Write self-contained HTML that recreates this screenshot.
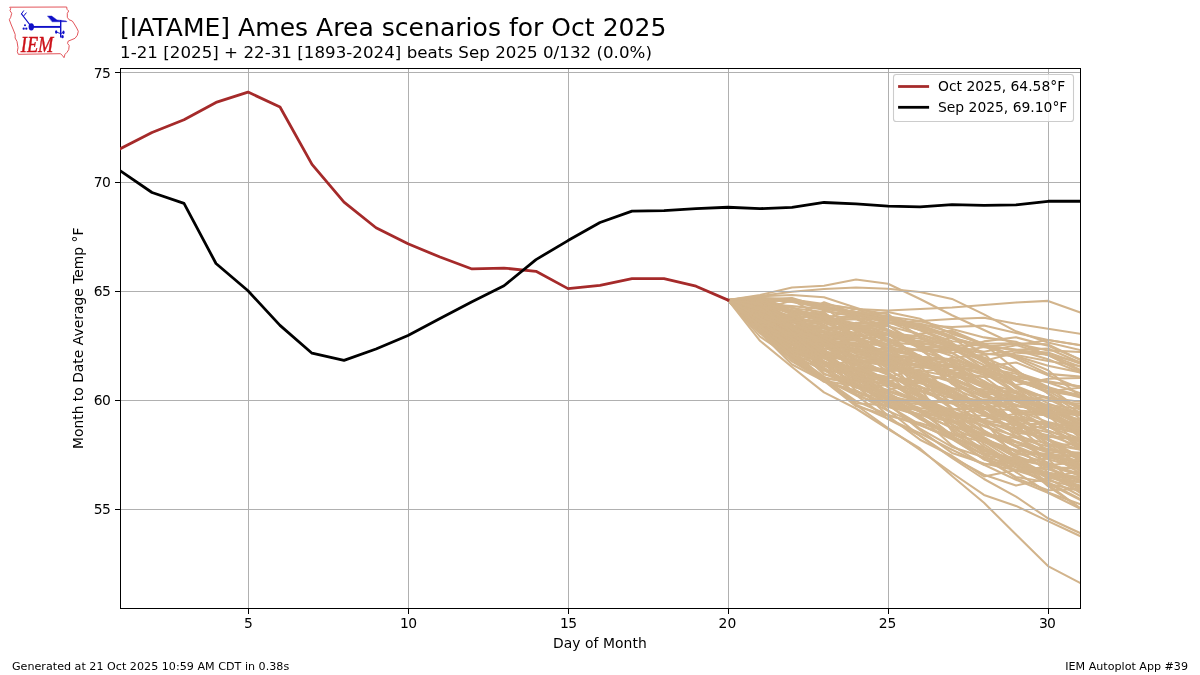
<!DOCTYPE html>
<html lang="en">
<head>
<meta charset="utf-8">
<title>[IATAME] Ames Area scenarios for Oct 2025</title>
<style>
html, body { margin: 0; padding: 0; background: #fff; }
body { width: 1200px; height: 675px; overflow: hidden; }
svg text { white-space: pre; }
</style>
</head>
<body>
<svg width="1200" height="675" viewBox="0 0 1200 675" font-family="'DejaVu Sans', 'Liberation Sans', sans-serif" style="display:block">
<rect width="1200" height="675" fill="#fff"/>
<defs><clipPath id="ax"><rect x="120" y="67.5" width="960" height="540"/></clipPath></defs>
<g clip-path="url(#ax)" fill="none" stroke="#d2b48c" stroke-width="2.08" stroke-linejoin="round" stroke-linecap="square">
<polyline points="728.0,300.1 760.0,314.6 792.0,333.3 824.0,373.5 856.0,387.4 888.0,390.6 920.0,399.7 952.0,403.5 984.0,407.8 1016.0,418.9 1048.0,422.9 1080.0,431.6"/>
<polyline points="728.0,300.1 760.0,322.7 792.0,338.0 824.0,353.8 856.0,363.9 888.0,380.5 920.0,394.6 952.0,415.3 984.0,426.3 1016.0,436.0 1048.0,443.8 1080.0,449.8"/>
<polyline points="728.0,300.1 760.0,316.9 792.0,343.4 824.0,368.4 856.0,386.0 888.0,385.2 920.0,394.8 952.0,413.2 984.0,432.9 1016.0,441.6 1048.0,452.1 1080.0,452.6"/>
<polyline points="728.0,300.1 760.0,307.3 792.0,318.8 824.0,332.3 856.0,339.8 888.0,358.7 920.0,388.2 952.0,431.1 984.0,453.3 1016.0,470.7 1048.0,474.3 1080.0,479.9"/>
<polyline points="728.0,300.1 760.0,327.6 792.0,359.1 824.0,381.8 856.0,390.4 888.0,407.2 920.0,410.0 952.0,421.0 984.0,430.7 1016.0,446.9 1048.0,462.6 1080.0,475.9"/>
<polyline points="728.0,300.1 760.0,327.2 792.0,351.0 824.0,363.9 856.0,369.2 888.0,382.8 920.0,400.2 952.0,419.8 984.0,446.7 1016.0,472.1 1048.0,492.5 1080.0,504.1"/>
<polyline points="728.0,300.1 760.0,310.9 792.0,315.9 824.0,324.5 856.0,346.8 888.0,372.4 920.0,394.3 952.0,429.3 984.0,449.4 1016.0,467.3 1048.0,483.8 1080.0,490.6"/>
<polyline points="728.0,300.1 760.0,306.1 792.0,324.9 824.0,338.7 856.0,348.9 888.0,367.6 920.0,375.0 952.0,379.8 984.0,402.3 1016.0,419.8 1048.0,444.0 1080.0,455.2"/>
<polyline points="728.0,300.1 760.0,306.8 792.0,325.7 824.0,342.3 856.0,360.3 888.0,363.5 920.0,364.2 952.0,371.7 984.0,376.9 1016.0,400.1 1048.0,417.4 1080.0,426.8"/>
<polyline points="728.0,300.1 760.0,320.4 792.0,333.0 824.0,327.7 856.0,327.6 888.0,342.4 920.0,344.7 952.0,366.3 984.0,380.9 1016.0,399.3 1048.0,408.7 1080.0,425.0"/>
<polyline points="728.0,300.1 760.0,328.1 792.0,336.6 824.0,358.4 856.0,355.2 888.0,350.6 920.0,355.6 952.0,378.1 984.0,391.1 1016.0,398.8 1048.0,411.6 1080.0,435.8"/>
<polyline points="728.0,300.1 760.0,329.0 792.0,349.0 824.0,341.1 856.0,343.9 888.0,340.0 920.0,341.1 952.0,343.9 984.0,359.0 1016.0,387.3 1048.0,415.2 1080.0,431.6"/>
<polyline points="728.0,300.1 760.0,315.6 792.0,319.2 824.0,332.7 856.0,345.8 888.0,353.3 920.0,366.8 952.0,394.8 984.0,421.6 1016.0,437.5 1048.0,452.4 1080.0,464.5"/>
<polyline points="728.0,300.1 760.0,331.7 792.0,349.3 824.0,364.7 856.0,361.4 888.0,365.4 920.0,381.0 952.0,408.1 984.0,420.5 1016.0,432.7 1048.0,436.7 1080.0,439.6"/>
<polyline points="728.0,300.1 760.0,316.7 792.0,331.7 824.0,351.1 856.0,365.8 888.0,369.6 920.0,387.5 952.0,396.0 984.0,421.2 1016.0,457.8 1048.0,486.2 1080.0,508.1"/>
<polyline points="728.0,300.1 760.0,313.3 792.0,328.3 824.0,342.4 856.0,345.6 888.0,353.9 920.0,360.1 952.0,377.1 984.0,394.6 1016.0,414.0 1048.0,426.0 1080.0,445.2"/>
<polyline points="728.0,300.1 760.0,327.2 792.0,331.3 824.0,334.7 856.0,338.4 888.0,348.2 920.0,349.6 952.0,350.3 984.0,341.4 1016.0,337.3 1048.0,345.8 1080.0,359.5"/>
<polyline points="728.0,300.1 760.0,333.3 792.0,347.4 824.0,354.0 856.0,374.6 888.0,377.2 920.0,381.6 952.0,396.9 984.0,408.3 1016.0,420.6 1048.0,438.5 1080.0,468.0"/>
<polyline points="728.0,300.1 760.0,315.1 792.0,355.2 824.0,379.8 856.0,393.9 888.0,410.9 920.0,424.6 952.0,439.2 984.0,458.5 1016.0,477.0 1048.0,482.2 1080.0,498.8"/>
<polyline points="728.0,300.1 760.0,312.4 792.0,332.3 824.0,353.8 856.0,384.7 888.0,416.0 920.0,439.7 952.0,455.8 984.0,476.5 1016.0,469.9 1048.0,472.9 1080.0,477.1"/>
<polyline points="728.0,300.1 760.0,320.5 792.0,325.7 824.0,338.7 856.0,339.7 888.0,335.3 920.0,346.0 952.0,349.2 984.0,361.0 1016.0,352.6 1048.0,354.4 1080.0,366.7"/>
<polyline points="728.0,300.1 760.0,336.6 792.0,358.0 824.0,378.5 856.0,401.1 888.0,414.7 920.0,425.3 952.0,438.0 984.0,447.2 1016.0,463.2 1048.0,472.7 1080.0,479.3"/>
<polyline points="728.0,300.1 760.0,324.8 792.0,331.1 824.0,339.7 856.0,322.7 888.0,323.0 920.0,321.3 952.0,329.1 984.0,337.4 1016.0,341.7 1048.0,355.3 1080.0,369.7"/>
<polyline points="728.0,300.1 760.0,313.7 792.0,321.4 824.0,321.5 856.0,318.7 888.0,319.4 920.0,327.6 952.0,346.6 984.0,369.1 1016.0,391.9 1048.0,405.8 1080.0,421.2"/>
<polyline points="728.0,300.1 760.0,328.9 792.0,343.7 824.0,358.0 856.0,376.9 888.0,405.6 920.0,424.6 952.0,437.3 984.0,459.2 1016.0,467.2 1048.0,469.2 1080.0,479.7"/>
<polyline points="728.0,300.1 760.0,325.3 792.0,344.8 824.0,363.6 856.0,395.1 888.0,406.6 920.0,415.5 952.0,414.9 984.0,408.7 1016.0,410.2 1048.0,412.7 1080.0,413.0"/>
<polyline points="728.0,300.1 760.0,305.9 792.0,316.4 824.0,326.1 856.0,313.0 888.0,319.0 920.0,330.2 952.0,343.7 984.0,362.2 1016.0,388.4 1048.0,397.7 1080.0,405.9"/>
<polyline points="728.0,300.1 760.0,316.0 792.0,331.4 824.0,342.9 856.0,349.1 888.0,363.7 920.0,381.4 952.0,396.5 984.0,415.4 1016.0,430.4 1048.0,439.8 1080.0,449.5"/>
<polyline points="728.0,300.1 760.0,326.7 792.0,331.6 824.0,331.6 856.0,346.9 888.0,369.0 920.0,372.2 952.0,366.7 984.0,366.6 1016.0,362.5 1048.0,375.2 1080.0,388.0"/>
<polyline points="728.0,300.1 760.0,309.4 792.0,329.3 824.0,340.4 856.0,342.9 888.0,355.2 920.0,366.1 952.0,365.3 984.0,373.0 1016.0,393.0 1048.0,411.3 1080.0,430.6"/>
<polyline points="728.0,300.1 760.0,319.9 792.0,339.3 824.0,355.3 856.0,375.7 888.0,381.6 920.0,376.4 952.0,395.1 984.0,411.2 1016.0,430.9 1048.0,466.4 1080.0,490.1"/>
<polyline points="728.0,300.1 760.0,326.1 792.0,354.2 824.0,366.5 856.0,367.7 888.0,370.4 920.0,370.8 952.0,376.4 984.0,383.2 1016.0,397.5 1048.0,410.6 1080.0,428.2"/>
<polyline points="728.0,300.1 760.0,319.2 792.0,322.9 824.0,318.8 856.0,319.4 888.0,331.3 920.0,347.1 952.0,352.9 984.0,347.1 1016.0,343.6 1048.0,350.4 1080.0,352.0"/>
<polyline points="728.0,300.1 760.0,322.6 792.0,344.9 824.0,358.3 856.0,369.1 888.0,371.8 920.0,367.0 952.0,364.3 984.0,385.1 1016.0,415.7 1048.0,438.5 1080.0,457.5"/>
<polyline points="728.0,300.1 760.0,316.3 792.0,337.2 824.0,355.5 856.0,362.1 888.0,387.4 920.0,402.2 952.0,419.9 984.0,434.5 1016.0,445.0 1048.0,449.1 1080.0,453.5"/>
<polyline points="728.0,300.1 760.0,321.3 792.0,339.5 824.0,357.6 856.0,371.5 888.0,376.9 920.0,383.2 952.0,390.0 984.0,408.3 1016.0,424.8 1048.0,452.6 1080.0,469.0"/>
<polyline points="728.0,300.1 760.0,327.3 792.0,318.9 824.0,321.6 856.0,315.3 888.0,312.0 920.0,318.8 952.0,334.1 984.0,343.7 1016.0,343.3 1048.0,344.4 1080.0,359.6"/>
<polyline points="728.0,300.1 760.0,331.9 792.0,343.7 824.0,353.2 856.0,360.9 888.0,359.8 920.0,365.3 952.0,373.9 984.0,385.2 1016.0,410.1 1048.0,426.8 1080.0,438.7"/>
<polyline points="728.0,300.1 760.0,304.6 792.0,321.4 824.0,328.8 856.0,336.1 888.0,334.0 920.0,345.2 952.0,355.9 984.0,373.0 1016.0,386.5 1048.0,403.4 1080.0,415.1"/>
<polyline points="728.0,300.1 760.0,299.1 792.0,321.3 824.0,331.1 856.0,337.7 888.0,355.3 920.0,378.1 952.0,396.7 984.0,407.9 1016.0,422.1 1048.0,446.5 1080.0,463.7"/>
<polyline points="728.0,300.1 760.0,321.3 792.0,343.2 824.0,368.7 856.0,394.8 888.0,419.1 920.0,435.7 952.0,457.1 984.0,474.7 1016.0,485.6 1048.0,478.5 1080.0,470.7"/>
<polyline points="728.0,300.1 760.0,303.7 792.0,311.6 824.0,319.0 856.0,308.8 888.0,314.2 920.0,337.6 952.0,352.6 984.0,372.7 1016.0,378.9 1048.0,392.9 1080.0,413.0"/>
<polyline points="728.0,300.1 760.0,321.7 792.0,334.1 824.0,338.7 856.0,353.8 888.0,361.7 920.0,377.2 952.0,392.4 984.0,406.7 1016.0,406.2 1048.0,410.2 1080.0,423.6"/>
<polyline points="728.0,300.1 760.0,323.2 792.0,334.1 824.0,355.5 856.0,370.6 888.0,377.4 920.0,386.2 952.0,409.1 984.0,444.4 1016.0,464.8 1048.0,474.6 1080.0,482.2"/>
<polyline points="728.0,300.1 760.0,328.9 792.0,339.5 824.0,350.7 856.0,363.9 888.0,393.2 920.0,409.3 952.0,436.1 984.0,451.2 1016.0,458.5 1048.0,465.4 1080.0,461.7"/>
<polyline points="728.0,300.1 760.0,320.2 792.0,329.9 824.0,338.5 856.0,352.4 888.0,355.0 920.0,357.4 952.0,364.8 984.0,375.1 1016.0,385.0 1048.0,378.8 1080.0,378.0"/>
<polyline points="728.0,300.1 760.0,314.8 792.0,321.8 824.0,337.8 856.0,340.6 888.0,356.1 920.0,366.5 952.0,372.7 984.0,383.1 1016.0,391.6 1048.0,410.8 1080.0,437.9"/>
<polyline points="728.0,300.1 760.0,321.2 792.0,334.6 824.0,348.2 856.0,356.6 888.0,364.3 920.0,372.5 952.0,381.9 984.0,395.6 1016.0,412.5 1048.0,413.1 1080.0,430.2"/>
<polyline points="728.0,300.1 760.0,317.4 792.0,329.1 824.0,327.7 856.0,326.4 888.0,341.1 920.0,357.7 952.0,384.0 984.0,397.3 1016.0,398.8 1048.0,406.7 1080.0,411.8"/>
<polyline points="728.0,300.1 760.0,327.8 792.0,344.1 824.0,374.4 856.0,380.4 888.0,390.0 920.0,383.0 952.0,374.1 984.0,376.7 1016.0,378.0 1048.0,382.0 1080.0,386.4"/>
<polyline points="728.0,300.1 760.0,324.8 792.0,338.0 824.0,346.3 856.0,350.3 888.0,358.6 920.0,361.7 952.0,377.5 984.0,392.6 1016.0,423.6 1048.0,436.3 1080.0,438.1"/>
<polyline points="728.0,300.1 760.0,318.3 792.0,347.6 824.0,363.6 856.0,384.1 888.0,404.9 920.0,414.4 952.0,427.1 984.0,434.3 1016.0,442.2 1048.0,452.6 1080.0,465.9"/>
<polyline points="728.0,300.1 760.0,319.3 792.0,338.5 824.0,352.9 856.0,375.1 888.0,399.0 920.0,402.1 952.0,420.4 984.0,440.5 1016.0,457.2 1048.0,477.0 1080.0,485.4"/>
<polyline points="728.0,300.1 760.0,315.5 792.0,357.0 824.0,377.3 856.0,384.6 888.0,400.6 920.0,404.4 952.0,409.1 984.0,409.1 1016.0,399.8 1048.0,397.3 1080.0,407.1"/>
<polyline points="728.0,300.1 760.0,306.0 792.0,307.2 824.0,320.2 856.0,323.8 888.0,340.1 920.0,356.4 952.0,383.2 984.0,401.0 1016.0,428.4 1048.0,440.0 1080.0,460.8"/>
<polyline points="728.0,300.1 760.0,313.9 792.0,337.2 824.0,345.6 856.0,360.2 888.0,361.7 920.0,376.4 952.0,397.1 984.0,430.7 1016.0,452.5 1048.0,464.0 1080.0,473.8"/>
<polyline points="728.0,300.1 760.0,321.6 792.0,318.1 824.0,314.9 856.0,335.7 888.0,357.5 920.0,398.9 952.0,417.8 984.0,419.3 1016.0,413.8 1048.0,415.3 1080.0,425.0"/>
<polyline points="728.0,300.1 760.0,330.9 792.0,352.9 824.0,362.2 856.0,368.7 888.0,380.7 920.0,403.1 952.0,424.4 984.0,453.1 1016.0,460.0 1048.0,465.8 1080.0,475.5"/>
<polyline points="728.0,300.1 760.0,299.0 792.0,300.2 824.0,317.7 856.0,340.4 888.0,359.2 920.0,374.7 952.0,388.3 984.0,389.3 1016.0,393.3 1048.0,411.7 1080.0,434.4"/>
<polyline points="728.0,300.1 760.0,316.0 792.0,338.2 824.0,361.1 856.0,380.7 888.0,404.0 920.0,430.1 952.0,452.9 984.0,463.5 1016.0,470.3 1048.0,480.4 1080.0,487.5"/>
<polyline points="728.0,300.1 760.0,321.3 792.0,332.6 824.0,332.4 856.0,334.7 888.0,344.6 920.0,376.2 952.0,390.0 984.0,406.5 1016.0,436.3 1048.0,459.2 1080.0,468.2"/>
<polyline points="728.0,300.1 760.0,322.9 792.0,321.6 824.0,321.7 856.0,325.2 888.0,324.9 920.0,349.5 952.0,372.1 984.0,393.7 1016.0,395.8 1048.0,406.7 1080.0,422.9"/>
<polyline points="728.0,300.1 760.0,314.4 792.0,316.8 824.0,332.1 856.0,368.6 888.0,397.4 920.0,412.0 952.0,428.2 984.0,442.0 1016.0,454.4 1048.0,454.3 1080.0,456.5"/>
<polyline points="728.0,300.1 760.0,319.8 792.0,355.3 824.0,370.2 856.0,374.7 888.0,391.5 920.0,402.3 952.0,411.6 984.0,425.6 1016.0,441.8 1048.0,451.3 1080.0,470.6"/>
<polyline points="728.0,300.1 760.0,325.8 792.0,348.3 824.0,370.3 856.0,387.6 888.0,399.1 920.0,419.0 952.0,435.8 984.0,455.2 1016.0,460.5 1048.0,478.5 1080.0,495.8"/>
<polyline points="728.0,300.1 760.0,304.3 792.0,324.7 824.0,340.2 856.0,370.1 888.0,400.9 920.0,411.0 952.0,421.7 984.0,420.5 1016.0,425.2 1048.0,432.3 1080.0,448.8"/>
<polyline points="728.0,300.1 760.0,303.9 792.0,306.1 824.0,309.1 856.0,311.9 888.0,316.3 920.0,325.0 952.0,335.9 984.0,353.5 1016.0,386.1 1048.0,408.3 1080.0,412.2"/>
<polyline points="728.0,300.1 760.0,299.6 792.0,301.8 824.0,306.2 856.0,316.0 888.0,317.7 920.0,326.8 952.0,337.6 984.0,346.3 1016.0,349.9 1048.0,348.5 1080.0,362.5"/>
<polyline points="728.0,300.1 760.0,332.2 792.0,345.4 824.0,338.1 856.0,331.9 888.0,322.0 920.0,329.7 952.0,341.2 984.0,343.7 1016.0,356.9 1048.0,370.2 1080.0,396.4"/>
<polyline points="728.0,300.1 760.0,315.5 792.0,326.8 824.0,343.0 856.0,360.6 888.0,374.3 920.0,393.3 952.0,416.3 984.0,439.4 1016.0,457.8 1048.0,474.3 1080.0,491.7"/>
<polyline points="728.0,300.1 760.0,320.1 792.0,334.7 824.0,345.3 856.0,368.6 888.0,379.3 920.0,404.0 952.0,419.5 984.0,438.9 1016.0,450.6 1048.0,454.0 1080.0,473.0"/>
<polyline points="728.0,300.1 760.0,307.0 792.0,321.1 824.0,331.3 856.0,347.1 888.0,360.7 920.0,382.7 952.0,394.7 984.0,401.7 1016.0,404.5 1048.0,414.9 1080.0,412.4"/>
<polyline points="728.0,300.1 760.0,332.7 792.0,361.4 824.0,380.7 856.0,386.2 888.0,393.9 920.0,410.2 952.0,414.6 984.0,415.8 1016.0,422.0 1048.0,443.1 1080.0,466.9"/>
<polyline points="728.0,300.1 760.0,313.6 792.0,332.5 824.0,345.3 856.0,363.9 888.0,384.0 920.0,396.6 952.0,411.0 984.0,423.1 1016.0,428.1 1048.0,426.7 1080.0,433.8"/>
<polyline points="728.0,300.1 760.0,331.0 792.0,359.0 824.0,378.9 856.0,395.4 888.0,395.9 920.0,402.4 952.0,424.3 984.0,441.6 1016.0,461.7 1048.0,477.0 1080.0,482.6"/>
<polyline points="728.0,300.1 760.0,326.3 792.0,343.1 824.0,367.8 856.0,386.2 888.0,397.7 920.0,402.5 952.0,400.9 984.0,399.6 1016.0,400.0 1048.0,414.4 1080.0,446.7"/>
<polyline points="728.0,300.1 760.0,299.0 792.0,298.1 824.0,307.6 856.0,313.7 888.0,329.6 920.0,342.5 952.0,348.2 984.0,357.5 1016.0,371.0 1048.0,386.9 1080.0,396.6"/>
<polyline points="728.0,300.1 760.0,323.8 792.0,348.8 824.0,380.3 856.0,391.9 888.0,404.0 920.0,428.7 952.0,446.9 984.0,457.2 1016.0,465.1 1048.0,476.7 1080.0,487.1"/>
<polyline points="728.0,300.1 760.0,324.6 792.0,353.7 824.0,376.5 856.0,404.6 888.0,418.7 920.0,433.3 952.0,449.7 984.0,464.7 1016.0,461.1 1048.0,458.6 1080.0,454.2"/>
<polyline points="728.0,300.1 760.0,299.0 792.0,312.4 824.0,313.4 856.0,330.2 888.0,351.2 920.0,363.5 952.0,367.2 984.0,384.3 1016.0,401.6 1048.0,416.8 1080.0,431.6"/>
<polyline points="728.0,300.1 760.0,317.8 792.0,335.1 824.0,355.2 856.0,379.6 888.0,384.8 920.0,390.4 952.0,398.1 984.0,401.2 1016.0,410.0 1048.0,422.1 1080.0,429.0"/>
<polyline points="728.0,300.1 760.0,300.1 792.0,319.6 824.0,336.2 856.0,351.4 888.0,361.4 920.0,379.3 952.0,403.2 984.0,423.2 1016.0,446.3 1048.0,472.2 1080.0,492.7"/>
<polyline points="728.0,300.1 760.0,302.7 792.0,298.6 824.0,310.6 856.0,316.9 888.0,325.9 920.0,343.8 952.0,363.3 984.0,386.8 1016.0,407.9 1048.0,430.8 1080.0,440.6"/>
<polyline points="728.0,300.1 760.0,324.5 792.0,347.9 824.0,364.6 856.0,383.4 888.0,392.9 920.0,411.4 952.0,434.8 984.0,441.7 1016.0,450.3 1048.0,456.1 1080.0,460.5"/>
<polyline points="728.0,300.1 760.0,308.1 792.0,320.2 824.0,322.8 856.0,333.8 888.0,344.6 920.0,350.4 952.0,361.9 984.0,385.5 1016.0,401.5 1048.0,408.1 1080.0,414.6"/>
<polyline points="728.0,300.1 760.0,314.7 792.0,330.5 824.0,338.9 856.0,345.4 888.0,357.8 920.0,361.2 952.0,373.5 984.0,387.5 1016.0,399.6 1048.0,425.0 1080.0,447.9"/>
<polyline points="728.0,300.1 760.0,302.5 792.0,320.3 824.0,343.8 856.0,372.6 888.0,397.0 920.0,416.8 952.0,445.5 984.0,464.8 1016.0,479.7 1048.0,492.7 1080.0,508.5"/>
<polyline points="728.0,300.1 760.0,322.5 792.0,340.5 824.0,355.7 856.0,371.7 888.0,397.2 920.0,408.1 952.0,410.8 984.0,431.5 1016.0,446.2 1048.0,458.9 1080.0,488.9"/>
<polyline points="728.0,300.1 760.0,307.6 792.0,310.2 824.0,315.0 856.0,328.5 888.0,345.9 920.0,357.1 952.0,359.2 984.0,368.3 1016.0,380.2 1048.0,386.8 1080.0,409.6"/>
<polyline points="728.0,300.1 760.0,310.4 792.0,343.3 824.0,361.9 856.0,386.4 888.0,399.6 920.0,400.8 952.0,415.4 984.0,437.7 1016.0,455.9 1048.0,483.6 1080.0,499.8"/>
<polyline points="728.0,300.1 760.0,311.5 792.0,340.9 824.0,361.9 856.0,375.0 888.0,402.3 920.0,415.9 952.0,438.7 984.0,455.1 1016.0,478.2 1048.0,490.3 1080.0,489.0"/>
<polyline points="728.0,300.1 760.0,325.1 792.0,327.6 824.0,311.1 856.0,315.3 888.0,323.2 920.0,326.1 952.0,338.4 984.0,345.7 1016.0,349.8 1048.0,359.3 1080.0,372.4"/>
<polyline points="728.0,300.1 760.0,327.3 792.0,336.0 824.0,342.5 856.0,325.5 888.0,331.0 920.0,343.0 952.0,349.0 984.0,365.2 1016.0,376.5 1048.0,381.4 1080.0,386.6"/>
<polyline points="728.0,300.1 760.0,316.0 792.0,325.6 824.0,328.3 856.0,328.6 888.0,337.9 920.0,356.2 952.0,374.2 984.0,387.6 1016.0,400.5 1048.0,405.0 1080.0,408.9"/>
<polyline points="728.0,300.1 760.0,300.7 792.0,312.3 824.0,315.9 856.0,317.8 888.0,330.3 920.0,345.5 952.0,337.0 984.0,361.2 1016.0,372.2 1048.0,382.4 1080.0,393.1"/>
<polyline points="728.0,300.1 760.0,320.4 792.0,314.7 824.0,319.9 856.0,330.5 888.0,334.8 920.0,338.8 952.0,347.1 984.0,358.9 1016.0,380.6 1048.0,390.9 1080.0,408.8"/>
<polyline points="728.0,300.1 760.0,304.2 792.0,313.8 824.0,316.4 856.0,323.4 888.0,333.7 920.0,359.6 952.0,383.1 984.0,412.4 1016.0,433.4 1048.0,449.6 1080.0,458.6"/>
<polyline points="728.0,300.1 760.0,318.7 792.0,333.5 824.0,351.1 856.0,361.5 888.0,363.1 920.0,366.5 952.0,370.2 984.0,367.7 1016.0,373.8 1048.0,387.9 1080.0,395.1"/>
<polyline points="728.0,300.1 760.0,332.4 792.0,364.5 824.0,381.0 856.0,406.1 888.0,415.7 920.0,422.9 952.0,433.3 984.0,449.9 1016.0,464.9 1048.0,484.4 1080.0,508.4"/>
<polyline points="728.0,300.1 760.0,297.7 792.0,310.8 824.0,321.9 856.0,326.2 888.0,334.6 920.0,348.1 952.0,345.7 984.0,345.0 1016.0,358.5 1048.0,373.9 1080.0,376.6"/>
<polyline points="728.0,300.1 760.0,309.8 792.0,300.4 824.0,304.8 856.0,308.8 888.0,321.8 920.0,334.6 952.0,342.8 984.0,362.6 1016.0,378.4 1048.0,391.4 1080.0,396.2"/>
<polyline points="728.0,300.1 760.0,318.4 792.0,337.3 824.0,355.3 856.0,362.3 888.0,374.8 920.0,391.2 952.0,402.3 984.0,401.4 1016.0,405.8 1048.0,410.7 1080.0,419.5"/>
<polyline points="728.0,300.1 760.0,330.0 792.0,355.7 824.0,380.1 856.0,403.2 888.0,405.4 920.0,414.4 952.0,422.2 984.0,434.4 1016.0,437.8 1048.0,446.4 1080.0,443.1"/>
<polyline points="728.0,300.1 760.0,318.7 792.0,325.0 824.0,335.8 856.0,339.3 888.0,345.2 920.0,359.6 952.0,378.5 984.0,391.9 1016.0,390.9 1048.0,397.5 1080.0,401.7"/>
<polyline points="728.0,300.1 760.0,314.4 792.0,326.9 824.0,321.6 856.0,336.9 888.0,348.6 920.0,356.8 952.0,359.2 984.0,370.2 1016.0,379.8 1048.0,388.7 1080.0,397.4"/>
<polyline points="728.0,300.1 760.0,308.9 792.0,325.3 824.0,331.5 856.0,327.4 888.0,326.1 920.0,334.4 952.0,346.0 984.0,351.8 1016.0,345.2 1048.0,340.0 1080.0,345.2"/>
<polyline points="728.0,300.1 760.0,298.7 792.0,300.1 824.0,306.8 856.0,331.7 888.0,347.9 920.0,356.1 952.0,370.9 984.0,386.7 1016.0,405.2 1048.0,412.4 1080.0,415.5"/>
<polyline points="728.0,300.1 760.0,328.9 792.0,355.6 824.0,378.6 856.0,381.9 888.0,377.0 920.0,369.1 952.0,357.8 984.0,354.7 1016.0,350.5 1048.0,352.6 1080.0,363.7"/>
<polyline points="728.0,300.1 760.0,313.1 792.0,321.4 824.0,326.9 856.0,338.5 888.0,354.5 920.0,374.4 952.0,391.8 984.0,413.5 1016.0,430.2 1048.0,435.0 1080.0,446.7"/>
<polyline points="728.0,300.1 760.0,327.0 792.0,343.5 824.0,352.9 856.0,350.9 888.0,348.3 920.0,350.5 952.0,353.0 984.0,369.7 1016.0,380.8 1048.0,391.3 1080.0,387.8"/>
<polyline points="728.0,300.1 760.0,298.1 792.0,308.2 824.0,312.0 856.0,338.7 888.0,368.9 920.0,390.1 952.0,403.0 984.0,414.3 1016.0,417.0 1048.0,424.8 1080.0,433.3"/>
<polyline points="728.0,300.1 760.0,315.2 792.0,336.4 824.0,346.2 856.0,349.8 888.0,354.3 920.0,358.2 952.0,359.9 984.0,382.2 1016.0,396.5 1048.0,400.7 1080.0,403.8"/>
<polyline points="728.0,300.1 760.0,302.1 792.0,309.9 824.0,317.4 856.0,330.1 888.0,333.2 920.0,336.4 952.0,347.6 984.0,353.6 1016.0,356.1 1048.0,365.8 1080.0,372.4"/>
<polyline points="728.0,300.1 760.0,310.0 792.0,333.5 824.0,340.9 856.0,344.2 888.0,350.8 920.0,356.4 952.0,361.5 984.0,371.3 1016.0,386.0 1048.0,398.8 1080.0,415.0"/>
<polyline points="728.0,300.1 760.0,325.7 792.0,350.3 824.0,361.6 856.0,371.9 888.0,382.9 920.0,397.3 952.0,414.6 984.0,441.7 1016.0,450.9 1048.0,466.0 1080.0,490.3"/>
<polyline points="728.0,300.1 760.0,309.9 792.0,326.3 824.0,355.4 856.0,390.9 888.0,403.9 920.0,417.1 952.0,434.4 984.0,434.6 1016.0,442.2 1048.0,457.3 1080.0,466.6"/>
<polyline points="728.0,300.1 760.0,307.7 792.0,332.2 824.0,349.0 856.0,378.8 888.0,397.4 920.0,418.0 952.0,438.0 984.0,459.5 1016.0,469.7 1048.0,467.1 1080.0,468.6"/>
<polyline points="728.0,300.1 760.0,321.1 792.0,334.5 824.0,357.9 856.0,345.4 888.0,344.2 920.0,333.8 952.0,330.7 984.0,344.3 1016.0,369.7 1048.0,393.7 1080.0,418.8"/>
<polyline points="728.0,300.1 760.0,322.4 792.0,318.9 824.0,302.2 856.0,313.7 888.0,322.5 920.0,323.6 952.0,332.4 984.0,345.2 1016.0,350.3 1048.0,354.8 1080.0,371.2"/>
<polyline points="728.0,300.1 760.0,299.2 792.0,314.9 824.0,337.6 856.0,356.6 888.0,359.6 920.0,373.9 952.0,380.1 984.0,392.6 1016.0,412.1 1048.0,439.7 1080.0,460.0"/>
<polyline points="728.0,300.1 760.0,303.2 792.0,332.4 824.0,362.0 856.0,377.2 888.0,384.2 920.0,391.1 952.0,388.2 984.0,401.0 1016.0,423.3 1048.0,424.5 1080.0,424.8"/>
<polyline points="728.0,300.1 760.0,316.9 792.0,327.0 824.0,343.0 856.0,356.7 888.0,374.9 920.0,386.7 952.0,396.5 984.0,403.7 1016.0,419.1 1048.0,430.8 1080.0,442.1"/>
<polyline points="728.0,300.1 760.0,308.3 792.0,328.9 824.0,340.2 856.0,358.8 888.0,373.0 920.0,404.5 952.0,425.0 984.0,437.1 1016.0,455.8 1048.0,467.5 1080.0,481.3"/>
<polyline points="728.0,300.0 760.0,295.0 792.0,287.5 824.0,285.7 856.0,279.5 888.0,283.8 920.0,299.0 952.0,315.3 984.0,330.0 1016.0,345.0 1048.0,355.0 1080.0,362.0"/>
<polyline points="728.0,300.0 760.0,296.0 792.0,291.7 824.0,289.0 856.0,287.5 888.0,288.8 920.0,292.0 952.0,298.9 984.0,314.4 1016.0,331.3 1048.0,342.5 1080.0,350.0"/>
<polyline points="728.0,300.0 760.0,298.0 792.0,299.5 824.0,304.0 856.0,309.0 888.0,310.5 920.0,309.0 952.0,307.5 984.0,305.0 1016.0,302.5 1048.0,300.9 1080.0,312.4"/>
<polyline points="728.0,300.0 760.0,298.0 792.0,300.0 824.0,306.0 856.0,312.0 888.0,316.5 920.0,321.0 952.0,319.0 984.0,317.8 1016.0,323.8 1048.0,328.8 1080.0,333.7"/>
<polyline points="728.0,300.0 760.0,299.0 792.0,302.0 824.0,308.0 856.0,314.0 888.0,320.0 920.0,325.0 952.0,327.0 984.0,325.6 1016.0,333.0 1048.0,340.0 1080.0,345.0"/>
<polyline points="728.0,300.0 760.0,296.3 792.0,295.0 824.0,297.3 856.0,307.8 888.0,318.0 920.0,328.0 952.0,338.0 984.0,347.0 1016.0,355.0 1048.0,361.0 1080.0,366.0"/>
<polyline points="728.0,300.0 760.0,340.8 792.0,367.0 824.0,392.4 856.0,408.5 888.0,429.0 920.0,448.5 952.0,476.0 984.0,502.8 1016.0,534.6 1048.0,566.1 1080.0,582.9"/>
<polyline points="728.0,300.0 760.0,326.0 792.0,352.0 824.0,380.0 856.0,405.0 888.0,428.0 920.0,450.0 952.0,473.0 984.0,494.9 1016.0,505.9 1048.0,521.1 1080.0,536.0"/>
<polyline points="728.0,300.0 760.0,318.0 792.0,338.0 824.0,362.0 856.0,386.0 888.0,410.0 920.0,436.0 952.0,458.0 984.0,479.0 1016.0,496.6 1048.0,518.3 1080.0,533.0"/>
</g>
<g stroke="#b0b0b0" stroke-width="1" shape-rendering="crispEdges">
<line x1="248.5" y1="67.5" x2="248.5" y2="607.5"/>
<line x1="408.5" y1="67.5" x2="408.5" y2="607.5"/>
<line x1="568.5" y1="67.5" x2="568.5" y2="607.5"/>
<line x1="728.5" y1="67.5" x2="728.5" y2="607.5"/>
<line x1="888.5" y1="67.5" x2="888.5" y2="607.5"/>
<line x1="1048.5" y1="67.5" x2="1048.5" y2="607.5"/>
<line x1="120" y1="509.5" x2="1080" y2="509.5"/>
<line x1="120" y1="400.5" x2="1080" y2="400.5"/>
<line x1="120" y1="291.5" x2="1080" y2="291.5"/>
<line x1="120" y1="182.5" x2="1080" y2="182.5"/>
<line x1="120" y1="72.5" x2="1080" y2="72.5"/>
</g>
<g stroke="#000" stroke-width="1" shape-rendering="crispEdges" fill="none">
<rect x="120.5" y="68.5" width="960" height="540"/>
<line x1="248.5" y1="608.5" x2="248.5" y2="614"/>
<line x1="408.5" y1="608.5" x2="408.5" y2="614"/>
<line x1="568.5" y1="608.5" x2="568.5" y2="614"/>
<line x1="728.5" y1="608.5" x2="728.5" y2="614"/>
<line x1="888.5" y1="608.5" x2="888.5" y2="614"/>
<line x1="1048.5" y1="608.5" x2="1048.5" y2="614"/>
<line x1="115" y1="509.5" x2="120.5" y2="509.5"/>
<line x1="115" y1="400.5" x2="120.5" y2="400.5"/>
<line x1="115" y1="291.5" x2="120.5" y2="291.5"/>
<line x1="115" y1="182.5" x2="120.5" y2="182.5"/>
<line x1="115" y1="72.5" x2="120.5" y2="72.5"/>
</g>
<g clip-path="url(#ax)" fill="none" stroke-width="2.78" stroke-linejoin="round" stroke-linecap="square">
<polyline stroke="#a52a2a" points="120.00,148.84 152.00,132.46 184.00,119.72 216.00,102.43 248.00,92.06 280.00,106.98 312.00,164.44 344.00,202.08 376.00,227.71 408.00,243.84 440.00,257.05 472.00,268.96 504.00,268.12 536.00,271.30 568.00,288.62 600.00,285.34 632.00,278.60 664.00,278.67 696.00,286.20 728.00,300.08"/>
<polyline stroke="#000" points="120.00,170.68 152.00,192.52 184.00,203.44 216.00,263.50 248.00,290.80 280.00,325.38 312.00,353.20 344.00,360.41 376.00,349.04 408.00,335.57 440.00,318.60 472.00,301.72 504.00,285.76 536.00,259.60 568.00,240.57 600.00,222.55 632.00,211.15 664.00,210.72 696.00,208.61 728.00,207.26 760.00,208.64 792.00,207.41 824.00,202.49 856.00,203.89 888.00,206.06 920.00,206.80 952.00,204.65 984.00,205.39 1016.00,204.95 1048.00,201.26 1080.00,201.26"/>
</g>
<g font-size="13.89px" fill="#000">
<text x="248.3" y="628.3" text-anchor="middle">5</text>
<text x="408.3" y="628.3" text-anchor="middle" letter-spacing="-0.5">10</text>
<text x="568.3" y="628.3" text-anchor="middle" letter-spacing="-0.5">15</text>
<text x="727.4" y="628.3" text-anchor="middle">20</text>
<text x="887.5" y="628.3" text-anchor="middle">25</text>
<text x="1046.9" y="628.3" text-anchor="middle" letter-spacing="-0.9">30</text>
<text x="110.5" y="514.3" text-anchor="end" letter-spacing="-0.4">55</text>
<text x="110.5" y="405.1" text-anchor="end" letter-spacing="-0.4">60</text>
<text x="110.5" y="295.9" text-anchor="end" letter-spacing="-0.4">65</text>
<text x="110.5" y="186.7" text-anchor="end" letter-spacing="-0.4">70</text>
<text x="110.5" y="77.5" text-anchor="end" letter-spacing="-0.4">75</text>
<text x="553" y="648" textLength="93.7" lengthAdjust="spacing">Day of Month</text>
<text transform="translate(82.6 338.3) rotate(-90)" text-anchor="middle">Month to Date Average Temp °F</text>
</g>
<text x="120" y="36.3" font-size="25px" textLength="546.4" lengthAdjust="spacing">[IATAME] Ames Area scenarios for Oct 2025</text>
<text x="120" y="58" font-size="16.67px" textLength="531.9" lengthAdjust="spacing">1-21 [2025] + 22-31 [1893-2024] beats Sep 2025 0/132 (0.0%)</text>
<g font-size="11.11px">
<text x="12" y="670" textLength="277.2" lengthAdjust="spacing">Generated at 21 Oct 2025 10:59 AM CDT in 0.38s</text>
<text x="1188" y="670" text-anchor="end">IEM Autoplot App #39</text>
</g>
<rect x="893.5" y="74.5" width="180" height="47" rx="2.8" ry="2.8" fill="#fff" fill-opacity="0.8" stroke="#ccc" stroke-width="1.1"/>
<g stroke-width="2.78" stroke-linecap="butt">
<line x1="898.1" y1="86.5" x2="929.1" y2="86.5" stroke="#a52a2a"/>
<line x1="898.1" y1="107.3" x2="929.1" y2="107.3" stroke="#000"/>
</g>
<g font-size="13.89px">
<text x="938" y="91">Oct 2025, 64.58°F</text>
<text x="938" y="112">Sep 2025, 69.10°F</text>
</g>
<g id="logo">
<path d="M9.7 7.2 L66.7 7 L67 9.3 L68.7 11 L67.3 13.3 L67.3 17.3 L69 19.7 L72.3 21 L74.3 24 L76.7 28 L78.3 31.3 L77.3 35.3 L75 38.3 L71 40 L68.3 41 L67.5 43.3 L69.2 45.6 L68.7 49.7 L67 52.3 L65 54.3 L64 57.7 L62.3 55.3 L60.3 53.7 L18.3 54.3 L17.3 51.7 L18 47.7 L17 41.5 L15.1 38 L15.2 34.5 L13 29 L11.3 25 L9.3 19.7 L10.7 17.3 L11.7 13.3 L10 10.7 L10.7 8.7 Z" fill="none" stroke="#e3555b" stroke-width="1" stroke-linejoin="round"/>
<g fill="#1010c8" stroke="#1010c8" stroke-linecap="round">
<line x1="31.3" y1="26.9" x2="60.5" y2="26.9" stroke-width="1.9" stroke-linecap="butt"/>
<line x1="60.7" y1="19.9" x2="60.7" y2="37.6" stroke-width="1.4" stroke-linecap="butt"/>
<line x1="31.3" y1="26.7" x2="21.5" y2="13.8" stroke-width="1.1"/>
<line x1="21.5" y1="13.8" x2="23.6" y2="10.8" stroke-width="1"/>
<line x1="24" y1="15.6" x2="26.2" y2="12.9" stroke-width="1"/>
<ellipse cx="31.3" cy="26.8" rx="2.7" ry="3.6" stroke="none"/>
<circle cx="25" cy="25.3" r="1" stroke="none"/>
<circle cx="23.7" cy="28.7" r="1.15" stroke="none"/>
<circle cx="26.3" cy="28.7" r="1.15" stroke="none"/>
<path d="M47.7 16 L51.7 16 L57 19.9 L66.3 20.9 L66.9 21.7 L52.3 21.8 Z" stroke-width="0.4" stroke-linejoin="round"/>
<ellipse cx="56.2" cy="32" rx="1.15" ry="1.8" stroke="none"/>
<ellipse cx="63.5" cy="32.3" rx="1.05" ry="1.9" stroke="none"/>
<ellipse cx="62.5" cy="36.7" rx="1.25" ry="1.6" stroke="none"/>
<path d="M56.2 32 L60.7 33.6 L63.5 32.3" fill="none" stroke-width="0.9"/>
</g>
<text x="20.8" y="51.5" font-family="'Liberation Serif', 'DejaVu Serif', serif" font-style="italic" font-size="23px" fill="#cc1018" stroke="#cc1018" stroke-width="0.45" textLength="32.6" lengthAdjust="spacingAndGlyphs">IEM</text>
</g>
</svg>
</body>
</html>
